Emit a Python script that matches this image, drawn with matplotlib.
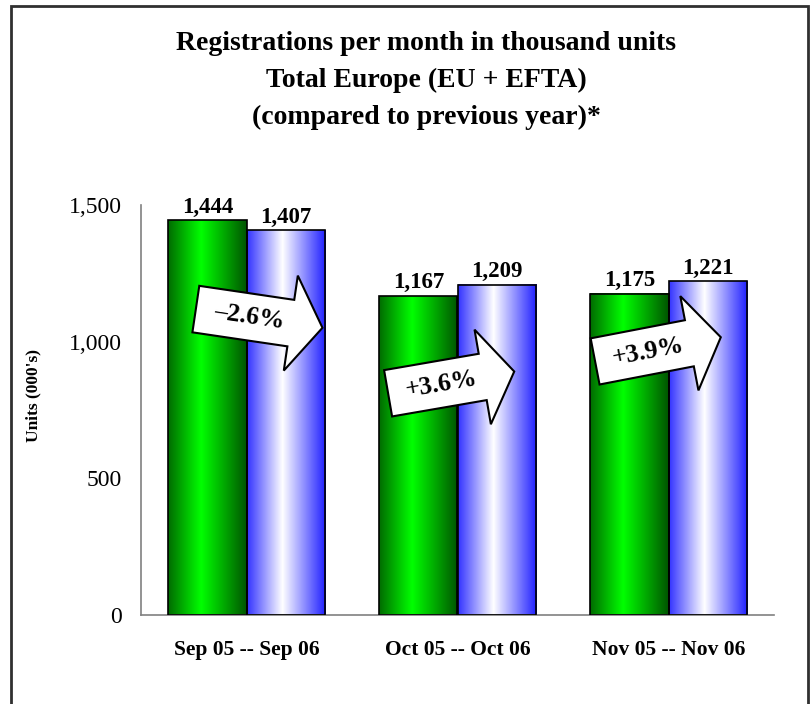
import matplotlib
matplotlib.use("Agg")
import matplotlib.pyplot as plt
import numpy as np
from matplotlib.colors import LinearSegmentedColormap
from matplotlib.patches import Polygon, Rectangle
import matplotlib.transforms as mtransforms

# ---- data ----
categories = ["Sep 05 -- Sep 06", "Oct 05 -- Oct 06", "Nov 05 -- Nov 06"]
prev_year = [1444, 1167, 1175]
this_year = [1407, 1209, 1221]
change_labels = ["\u20132.6%", "+3.6%", "+3.9%"]
yticks = [0, 500, 1000, 1500]
ytick_labels = ["0", "500", "1,000", "1,500"]
title_lines = ["Registrations per month in thousand units",
               "Total Europe (EU + EFTA)",
               "(compared to previous year)*"]
ylabel = "Units (000's)"

# arrow annotation placement (data units) and rotation (degrees)
arrow_x = [0.06, 0.97, 1.95]
arrow_y = [1085, 851, 972]
arrow_angle = [-8.4, 9.8, 10.9]

SERIF = ["Liberation Serif", "DejaVu Serif"]
plt.rcParams["font.family"] = SERIF

W, H = 811, 704
fig = plt.figure(figsize=(W / 100, H / 100), dpi=100)

# outer frame
frame = Rectangle((11 / W, -0.01), (807.5 - 11) / W, 1 - 5.5 / H + 0.01,
                  transform=fig.transFigure, fill=False, edgecolor="#303030",
                  linewidth=2, zorder=0)
fig.patches.append(frame)

ax = fig.add_axes([141 / W, 1 - 615 / H, (774 - 141) / W, (615 - 205) / H])
ax.set_xlim(-0.5, 2.5)
ax.set_ylim(0, 1500)

x = np.arange(len(categories))
bw = 0.37
bars1 = ax.bar(x - bw / 2, prev_year, bw, facecolor="none", edgecolor="black",
               linewidth=1.2, zorder=3)
bars2 = ax.bar(x + bw / 2, this_year, bw, facecolor="none", edgecolor="black",
               linewidth=1.2, zorder=3)

green_cmap = LinearSegmentedColormap.from_list(
    "g", [(0.0, (0, 0.42, 0)), (0.42, (0, 1.0, 0)), (1.0, (0, 0.33, 0))])
blue_cmap = LinearSegmentedColormap.from_list(
    "b", [(0.0, (0.2, 0.2, 1.0)), (0.45, (1, 1, 1)), (1.0, (0.12, 0.12, 1.0))])
grad = np.linspace(0, 1, 256).reshape(1, -1)
for bars, cmap in ((bars1, green_cmap), (bars2, blue_cmap)):
    for r in bars:
        x0, w, h = r.get_x(), r.get_width(), r.get_height()
        ax.imshow(grad, cmap=cmap, extent=(x0, x0 + w, 0, h), aspect="auto",
                  interpolation="bilinear", zorder=2)
ax.set_xlim(-0.5, 2.5)
ax.set_ylim(0, 1500)

# value labels
for bars, vals in ((bars1, prev_year), (bars2, this_year)):
    for r, v in zip(bars, vals):
        ax.annotate(f"{v:,}", (r.get_x() + r.get_width() / 2, v),
                    xytext=(0, 2), textcoords="offset points", ha="center",
                    va="bottom", fontsize=16.5, fontweight="bold", zorder=5,
                    annotation_clip=False)

# block arrows (shape defined in pixels, rotated)
L, shaft_w, head_w, head_l = 128, 47, 96, 32
shape = np.array([[-L / 2, -shaft_w / 2], [L / 2 - head_l, -shaft_w / 2],
                  [L / 2 - head_l, -head_w / 2], [L / 2, 0],
                  [L / 2 - head_l, head_w / 2], [L / 2 - head_l, shaft_w / 2],
                  [-L / 2, shaft_w / 2]])
for ax_x, ax_y, ang, lab in zip(arrow_x, arrow_y, arrow_angle, change_labels):
    poly = Polygon(shape, closed=True, facecolor="white", edgecolor="black",
                   linewidth=1.5, zorder=6)
    poly.set_transform(mtransforms.Affine2D().rotate_deg(ang) +
                       mtransforms.ScaledTranslation(ax_x, ax_y, ax.transData))
    ax.add_patch(poly)
    poly.set_clip_on(False)
    off = -0.08 * L
    dx = off * np.cos(np.radians(ang))
    dy = off * np.sin(np.radians(ang))
    ax.annotate(lab, (ax_x, ax_y), xytext=(dx * 0.72, dy * 0.72),
                textcoords="offset points", ha="center", va="center",
                rotation=ang, rotation_mode="anchor", fontsize=18.5,
                fontweight="bold", zorder=7, annotation_clip=False)

# axes styling
for s in ("top", "right"):
    ax.spines[s].set_visible(False)
for s in ("left", "bottom"):
    ax.spines[s].set_color("#808080")
    ax.spines[s].set_linewidth(1.2)
ax.set_yticks(yticks)
ax.set_yticklabels(ytick_labels, fontsize=17)
ax.set_xticks(x)
ax.set_xticklabels(categories, fontsize=15.5, fontweight="bold")
ax.tick_params(axis="both", length=0)
ax.tick_params(axis="y", pad=14)
ax.tick_params(axis="x", pad=18)
ax.patch.set_visible(False)

fig.text(33 / W, 1 - 396 / H, ylabel, rotation=90, ha="center", va="center",
         fontsize=12.5, fontweight="bold")

for i, line in enumerate(title_lines):
    fig.text(426 / W, 1 - (43 + 37 * i) / H, line, ha="center", va="center",
             fontsize=20, fontweight="bold")

fig.savefig("out.png", dpi=100)
